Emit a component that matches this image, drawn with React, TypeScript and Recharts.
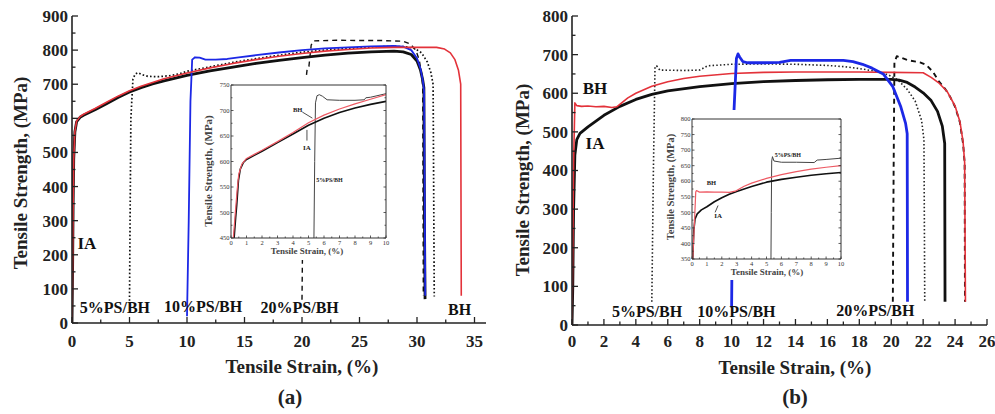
import React from 'react';
import { LineChart, Line, XAxis, YAxis, ReferenceDot, ReferenceLine } from 'recharts';

type Pair = [number, number];
type Pt = { s: number; v: number };
const toPts = (arr: Pair[]): Pt[] => arr.map(([s, v]) => ({ s, v }));

// ---------- Panel (a) main ----------
const aIA: Pair[] = [[0,0],[0.05,150],[0.1,350],[0.15,480],[0.25,560],[0.4,590],[0.7,603],[1,609],[2,625],[3,643],[4,661],[5,677],[6,690],[7,701],[8,710],[10,726],[12,739],[14,750],[16,761],[18,770],[20,778],[22,785],[24,791],[26,795],[28,797],[28.8,795],[29.5,787],[30,768],[30.3,742],[30.5,712],[30.6,690],[30.65,300],[30.7,70]];
const aBH: Pair[] = [[0,0],[0.04,120],[0.09,320],[0.15,480],[0.25,562],[0.4,592],[0.7,605],[1,612],[2,629],[3,647],[4,665],[5,681],[6,694],[7,705],[8,716],[10,733],[12,748],[14,761],[16,772],[18,782],[20,790],[22,797],[24,802],[26,806],[28,808],[31.7,808],[32.4,803],[32.9,792],[33.3,772],[33.6,742],[33.8,700],[33.85,80]];
const a10: Pair[] = [[10,20],[10.15,300],[10.3,650],[10.45,772],[10.7,779],[11.1,778],[11.6,772],[12.5,772],[13.5,774],[14.5,779],[16,785],[18,793],[20,800],[22,805],[24,808],[26,811],[28,812],[28.8,810],[29.5,800],[30,776],[30.3,746],[30.5,712],[30.62,680],[30.68,300],[30.72,80]];
const a5: Pair[] = [[5,65],[5.05,300],[5.12,600],[5.3,715],[5.5,730],[5.75,734],[6.1,728],[6.6,723],[7.5,722],[8.5,725],[9.3,730],[10,738],[12,751],[14,764],[16,775],[18,785],[20,794],[22,800],[24,805],[26,809],[28,811],[29,810],[29.8,805],[30.4,792],[30.9,765],[31.2,735],[31.4,700],[31.45,400],[31.5,78]];
const a20: Pair[] = [[20,68],[20.1,400],[20.3,700],[20.45,745],[20.6,752],[20.8,815],[21,827],[23,829],[25,828],[27,828],[28.8,826],[29.4,818],[29.9,800],[30.2,770],[30.4,730],[30.5,690],[30.55,80]];

// ---------- Panel (b) main ----------
const bIA: Pair[] = [[0,0],[0.05,100],[0.1,300],[0.18,440],[0.3,480],[0.5,496],[1,513],[2,543],[3,566],[4,584],[5,597],[6,606],[8,617],[10,625],[12,630],[14,633],[16,635],[18,636],[20,636],[20.5,634],[21,628],[21.5,616],[22,601],[22.5,581],[22.9,553],[23.2,515],[23.35,470],[23.37,60]];
const bBH: Pair[] = [[0,0],[0.05,200],[0.1,420],[0.18,575],[0.3,568],[0.6,566],[1,567],[1.5,565],[2,566],[2.5,563],[2.8,565],[3.5,588],[4,600],[5,618],[6,630],[7,638],[8,644],[10,651],[12,654],[14,655],[16,655],[18,655],[20,654],[22,653],[22.5,641],[23,626],[23.5,605],[24,567],[24.3,527],[24.5,475],[24.6,420],[24.65,60]];
const b10: Pair[] = [[10,45],[10.05,300],[10.15,555],[10.3,690],[10.4,702],[10.5,694],[10.7,682],[11,679],[12,679],[13,680],[13.7,685],[15,685],[17,685],[17.6,682],[18.2,675],[18.8,665],[19.5,650],[20.1,617],[20.6,565],[20.9,522],[21,495],[21.02,60]];
const b5: Pair[] = [[5,60],[5.1,400],[5.2,668],[5.3,671],[5.5,660],[7,659],[8,660],[8.5,671],[10,675],[12,676],[14,675],[16,672],[17,669],[18,664],[19,657],[19.8,648],[20.4,635],[21,610],[21.5,580],[21.9,530],[22.05,480],[22.1,60]];
const b20: Pair[] = [[20.1,60],[20.15,400],[20.2,680],[20.35,696],[21,686],[21.8,680],[22.2,673],[22.6,656],[23,630],[23.4,610],[23.7,590],[24,565],[24.3,525],[24.5,470],[24.6,420],[24.62,60]];

// ---------- Insets ----------
const iaIA: Pair[] = [[0.2,450],[0.3,490],[0.37,515],[0.48,563],[0.6,585],[0.8,598],[1,604],[1.5,612],[2,620],[3,637],[4,654],[5,671],[6,685],[7,696],[8,705],[9,712],[10,718]];
const iaBH: Pair[] = [[0.15,450],[0.28,500],[0.4,545],[0.5,575],[0.7,595],[1,606],[1.5,614],[2,622],[3,639],[4,657],[5,676],[6,691],[7,703],[8,713],[9,722],[10,731]];
const ia5: Pair[] = [[5.35,450],[5.4,600],[5.45,715],[5.55,729],[5.7,731],[5.9,728],[6.2,721],[7,720],[8,720],[8.6,721],[8.7,725],[9,726],[10,733]];
const ibIA: Pair[] = [[0.05,350],[0.12,440],[0.2,478],[0.35,495],[0.63,508],[1,518],[1.5,534],[2,547],[2.5,558],[3,567],[4,583],[5,597],[6,606],[7,613],[8,619],[9,624],[10,628]];
const ibBH: Pair[] = [[0.05,350],[0.15,450],[0.25,565],[0.3,570],[0.5,565],[1,566],[1.5,565],[2,565],[2.5,564],[2.9,568],[3.5,584],[4,594],[5,609],[6,621],[7,631],[8,639],[9,645],[10,650]];
const ib5: Pair[] = [[5.3,350],[5.32,500],[5.35,665],[5.4,679],[5.5,665],[6,661],[7,661],[8.2,660],[8.4,668],[9,670],[10,674]];

// ---------- Ticks ----------
const aXTicks = [0,2.5,5,7.5,10,12.5,15,17.5,20,22.5,25,27.5,30,32.5,35];
const aXMajor = [0,5,10,15,20,25,30,35];
const aYTicks = [0,50,100,150,200,250,300,350,400,450,500,550,600,650,700,750,800,850,900];
const aYMajor = [0,100,200,300,400,500,600,700,800,900];
const bXTicks = [0,1,2,3,4,5,6,7,8,9,10,11,12,13,14,15,16,17,18,19,20,21,22,23,24,25,26];
const bXMajor = [0,2,4,6,8,10,12,14,16,18,20,22,24,26];
const bYTicks = [0,50,100,150,200,250,300,350,400,450,500,550,600,650,700,750,800];
const bYMajor = [0,100,200,300,400,500,600,700,800];
const iXTicks = [0,0.5,1,1.5,2,2.5,3,3.5,4,4.5,5,5.5,6,6.5,7,7.5,8,8.5,9,9.5,10];
const iXMajor = [0,1,2,3,4,5,6,7,8,9,10];
const iaYTicks = [450,475,500,525,550,575,600,625,650,675,700,725,750];
const iaYMajor = [450,500,550,600,650,700,750];
const ibYTicks = [350,375,400,425,450,475,500,525,550,575,600,625,650,675,700,725,750,775,800];
const ibYMajor = [350,400,450,500,550,600,650,700,750,800];

const FONT = '"Liberation Serif", "DejaVu Serif", serif';
const RED = '#e3323a';
const BLUE = '#1c28e6';
const BLK = '#111';

type TickOpt = {
  orient: 'bottom' | 'left' | 'top' | 'right';
  majors: number[];
  majLen: number;
  minLen: number;
  fs: number;
  off: number;
  color: string;
  show: boolean;
  weight: number | string;
  sw: number;
};
const isIn = (arr: number[], v: number) => arr.some((a) => Math.abs(a - v) < 1e-6);
const makeTick = (o: TickOpt) => (props: any) => {
  const { x, y, payload } = props;
  const val = payload.value;
  const maj = isIn(o.majors, val);
  const len = maj ? o.majLen : o.minLen;
  let x2 = x;
  let y2 = y;
  if (o.orient === 'bottom') y2 = y - len;
  else if (o.orient === 'top') y2 = y + len;
  else if (o.orient === 'left') x2 = x + len;
  else x2 = x - len;
  let label: any = null;
  if (o.show && maj) {
    if (o.orient === 'bottom') {
      label = (
        <text x={x} y={y + o.off} dy="0.35em" textAnchor="middle" fontSize={o.fs} fontWeight={o.weight} fontFamily={FONT} fill={o.color}>
          {val}
        </text>
      );
    } else {
      label = (
        <text x={x - o.off} y={y} dy="0.35em" textAnchor="end" fontSize={o.fs} fontWeight={o.weight} fontFamily={FONT} fill={o.color}>
          {val}
        </text>
      );
    }
  }
  return (
    <g>
      <line x1={x} y1={y} x2={x2} y2={y2} stroke={o.color} strokeWidth={o.sw} />
      {label}
    </g>
  );
};

const annShape = (text: string, fs: number, anchor: string = 'middle', weight: number | string = 'bold', color = '#111') => (p: any) => (
  <text x={p.cx} y={p.cy} dy="0.35em" textAnchor={anchor} fontSize={fs} fontWeight={weight} fontFamily={FONT} fill={color}>
    {text}
  </text>
);

const line = (data: Pair[], stroke: string, width: number, dash?: string) => (
  <Line
    data={toPts(data)}
    dataKey="v"
    type="linear"
    stroke={stroke}
    strokeWidth={width}
    strokeDasharray={dash}
    dot={false}
    activeDot={false}
    isAnimationActive={false}
    strokeLinejoin="round"
  />
);

function PanelA() {
  return (
    <LineChart width={495} height={414} margin={{ top: 16, right: 9, bottom: 90, left: 71 }}>
      <XAxis dataKey="s" type="number" domain={[0, 36]} allowDataOverflow ticks={aXTicks} height={1} tickSize={0} tickMargin={0} tickLine={false}
        axisLine={{ stroke: '#222', strokeWidth: 1.6 }} interval={0}
        tick={makeTick({ orient: 'bottom', majors: aXMajor, majLen: 6, minLen: 3.5, fs: 17, off: 18, color: '#222', show: true, weight: 'bold', sw: 1.3 })} />
      <YAxis type="number" domain={[0, 900]} allowDataOverflow ticks={aYTicks} width={1} tickSize={0} tickMargin={0} tickLine={false}
        axisLine={{ stroke: '#222', strokeWidth: 1.6 }} interval={0}
        tick={makeTick({ orient: 'left', majors: aYMajor, majLen: 6, minLen: 3.5, fs: 17, off: 4, color: '#222', show: true, weight: 'bold', sw: 1.3 })} />
      {line(a20, BLK, 1.4, '5 4')}
      {line(a5, BLK, 1.7, '1.6 2.2')}
      {line(aIA, BLK, 2.8)}
      {line(a10, BLUE, 1.8)}
      {line(aBH, RED, 1.6)}
      <ReferenceDot x={1.3} y={235} r={0} ifOverflow="visible" shape={annShape('IA', 17)} />
      <ReferenceDot x={3.73} y={47} r={0} ifOverflow="visible" shape={annShape('5%PS/BH', 16)} />
      <ReferenceDot x={11.4} y={50} r={0} ifOverflow="visible" shape={annShape('10%PS/BH', 16)} />
      <ReferenceDot x={19.8} y={47} r={0} ifOverflow="visible" shape={annShape('20%PS/BH', 16)} />
      <ReferenceDot x={33.7} y={41} r={0} ifOverflow="visible" shape={annShape('BH', 16)} />
    </LineChart>
  );
}

function PanelB() {
  return (
    <LineChart width={500} height={414} margin={{ top: 16, right: 8, bottom: 88, left: 76 }}>
      <XAxis dataKey="s" type="number" domain={[0, 26]} allowDataOverflow ticks={bXTicks} height={1} tickSize={0} tickMargin={0} tickLine={false}
        axisLine={{ stroke: '#222', strokeWidth: 1.6 }} interval={0}
        tick={makeTick({ orient: 'bottom', majors: bXMajor, majLen: 6, minLen: 3.5, fs: 17, off: 16, color: '#222', show: true, weight: 'bold', sw: 1.3 })} />
      <YAxis type="number" domain={[0, 800]} allowDataOverflow ticks={bYTicks} width={1} tickSize={0} tickMargin={0} tickLine={false}
        axisLine={{ stroke: '#222', strokeWidth: 1.6 }} interval={0}
        tick={makeTick({ orient: 'left', majors: bYMajor, majLen: 6, minLen: 3.5, fs: 17, off: 4, color: '#222', show: true, weight: 'bold', sw: 1.3 })} />
      {line(b5, '#222', 1.6, '1.5 2.2')}
      {line(b20, BLK, 1.9, '5 4')}
      {line(bIA, BLK, 2.8)}
      {line(bBH, RED, 1.6)}
      {line(b10, BLUE, 2.8)}
      <ReferenceDot x={1.44} y={614} r={0} ifOverflow="visible" shape={annShape('BH', 17)} />
      <ReferenceDot x={1.44} y={471} r={0} ifOverflow="visible" shape={annShape('IA', 17)} />
      <ReferenceDot x={4.7} y={34} r={0} ifOverflow="visible" shape={annShape('5%PS/BH', 16)} />
      <ReferenceDot x={10.3} y={34} r={0} ifOverflow="visible" shape={annShape('10%PS/BH', 16)} />
      <ReferenceDot x={19.0} y={39} r={0} ifOverflow="visible" shape={annShape('20%PS/BH', 16)} />
    </LineChart>
  );
}

const insetTick = (orient: 'bottom' | 'left' | 'top' | 'right', majors: number[], show: boolean, off: number) =>
  makeTick({ orient, majors, majLen: 2.5, minLen: 1.5, fs: 6.5, off, color: '#333', show, weight: 'normal', sw: 0.8 });

function InsetA() {
  return (
    <LineChart width={195} height={182} margin={{ top: 6, right: 8, bottom: 21, left: 30 }}>
      <XAxis dataKey="s" type="number" domain={[0, 10]} allowDataOverflow ticks={iXTicks} height={1} tickSize={0} tickMargin={0} tickLine={false} interval={0}
        axisLine={{ stroke: '#333', strokeWidth: 1 }} tick={insetTick('bottom', iXMajor, true, 5)} />
      <XAxis xAxisId="t" orientation="top" type="number" domain={[0, 10]} allowDataOverflow ticks={iXTicks} height={1} tickSize={0} tickMargin={0} tickLine={false} interval={0}
        axisLine={{ stroke: '#333', strokeWidth: 1 }} tick={insetTick('top', iXMajor, false, 0)} />
      <YAxis type="number" domain={[450, 750]} allowDataOverflow ticks={iaYTicks} width={1} tickSize={0} tickMargin={0} tickLine={false} interval={0}
        axisLine={{ stroke: '#333', strokeWidth: 1 }} tick={insetTick('left', iaYMajor, true, 1.5)} />
      <YAxis yAxisId="r" orientation="right" type="number" domain={[450, 750]} allowDataOverflow ticks={iaYTicks} width={1} tickSize={0} tickMargin={0} tickLine={false} interval={0}
        axisLine={{ stroke: '#333', strokeWidth: 1 }} tick={insetTick('right', iaYMajor, false, 0)} />
      {line(ia5, '#444', 1)}
      {line(iaIA, BLK, 1.6)}
      {line(iaBH, '#ee5a64', 1.2)}
      <ReferenceLine segment={[{ x: 4.6, y: 697 }, { x: 5.25, y: 685 }]} stroke="#222" strokeWidth={0.8} ifOverflow="visible" />
      <ReferenceLine segment={[{ x: 4.9, y: 641 }, { x: 4.9, y: 662 }]} stroke="#222" strokeWidth={0.8} ifOverflow="visible" />
      <ReferenceDot x={4.3} y={701} r={0} ifOverflow="visible" shape={annShape('BH', 6.5, 'middle', 'bold', '#222')} />
      <ReferenceDot x={4.9} y={628} r={0} ifOverflow="visible" shape={annShape('IA', 7, 'middle', 'bold', '#222')} />
      <ReferenceDot x={5.5} y={563} r={0} ifOverflow="visible" shape={annShape('5%PS/BH', 6, 'start', 'bold', '#222')} />
    </LineChart>
  );
}

function InsetB() {
  return (
    <LineChart width={183} height={170} margin={{ top: 8, right: 5, bottom: 20, left: 27 }}>
      <XAxis dataKey="s" type="number" domain={[0, 10]} allowDataOverflow ticks={iXTicks} height={1} tickSize={0} tickMargin={0} tickLine={false} interval={0}
        axisLine={{ stroke: '#333', strokeWidth: 1 }} tick={insetTick('bottom', iXMajor, true, 5)} />
      <XAxis xAxisId="t" orientation="top" type="number" domain={[0, 10]} allowDataOverflow ticks={iXTicks} height={1} tickSize={0} tickMargin={0} tickLine={false} interval={0}
        axisLine={{ stroke: '#333', strokeWidth: 1 }} tick={insetTick('top', iXMajor, false, 0)} />
      <YAxis type="number" domain={[350, 800]} allowDataOverflow ticks={ibYTicks} width={1} tickSize={0} tickMargin={0} tickLine={false} interval={0}
        axisLine={{ stroke: '#333', strokeWidth: 1 }} tick={insetTick('left', ibYMajor, true, 1.5)} />
      <YAxis yAxisId="r" orientation="right" type="number" domain={[350, 800]} allowDataOverflow ticks={ibYTicks} width={1} tickSize={0} tickMargin={0} tickLine={false} interval={0}
        axisLine={{ stroke: '#333', strokeWidth: 1 }} tick={insetTick('right', ibYMajor, false, 0)} />
      {line(ib5, '#444', 1)}
      {line(ibIA, BLK, 1.6)}
      {line(ibBH, '#ee5a64', 1.2)}
      <ReferenceLine segment={[{ x: 1.55, y: 500 }, { x: 1.75, y: 522 }]} stroke="#222" strokeWidth={0.8} ifOverflow="visible" />
      <ReferenceDot x={1.3} y={594} r={0} ifOverflow="visible" shape={annShape('BH', 6.5, 'middle', 'bold', '#222')} />
      <ReferenceDot x={1.75} y={489} r={0} ifOverflow="visible" shape={annShape('IA', 7, 'middle', 'bold', '#222')} />
      <ReferenceDot x={5.55} y={685} r={0} ifOverflow="visible" shape={annShape('5%PS/BH', 6, 'start', 'bold', '#222')} />
    </LineChart>
  );
}

const titleStyle = { fontFamily: FONT, fontWeight: 'bold' as const, fill: '#222' };

export default function App() {
  return (
    <div style={{ position: 'absolute', left: 0, top: 0, width: 995, height: 414, background: '#fff', overflow: 'hidden' }}>
      <div style={{ position: 'absolute', left: 0, top: 0 }}>
        <PanelA />
      </div>
      <div style={{ position: 'absolute', left: 495, top: 0 }}>
        <PanelB />
      </div>
      <div style={{ position: 'absolute', left: 200, top: 78, background: '#fff' }}>
        <InsetA />
      </div>
      <div style={{ position: 'absolute', left: 664, top: 110, background: '#fff' }}>
        <InsetB />
      </div>
      <svg width={995} height={414} style={{ position: 'absolute', left: 0, top: 0, pointerEvents: 'none' }}>
        <text x={20} y={173} dy="0.35em" textAnchor="middle" fontSize={19} transform="rotate(-90 20 173)" {...titleStyle}>Tensile Strength, (MPa)</text>
        <text x={302} y={366} dy="0.35em" textAnchor="middle" fontSize={19} {...titleStyle}>Tensile Strain, (%)</text>
        <text x={290} y={397} dy="0.35em" textAnchor="middle" fontSize={21} {...titleStyle}>(a)</text>
        <text x={522} y={180} dy="0.35em" textAnchor="middle" fontSize={19} transform="rotate(-90 522 180)" {...titleStyle}>Tensile Strength, (MPa)</text>
        <text x={795} y={367} dy="0.35em" textAnchor="middle" fontSize={19} {...titleStyle}>Tensile Strain, (%)</text>
        <text x={795} y={397} dy="0.35em" textAnchor="middle" fontSize={21} {...titleStyle}>(b)</text>
        <text x={208} y={171} dy="0.35em" textAnchor="middle" fontSize={11} transform="rotate(-90 208 171)" fontFamily={FONT} fontWeight="bold" fill="#444">Tensile Strength, (MPa)</text>
        <text x={307} y={251} dy="0.35em" textAnchor="middle" fontSize={9} fontFamily={FONT} fontWeight="bold" fill="#444">Tensile Strain, (%)</text>
        <text x={670} y={187} dy="0.35em" textAnchor="middle" fontSize={10.5} transform="rotate(-90 670 187)" fontFamily={FONT} fontWeight="bold" fill="#444">Tensile Strength, (MPa)</text>
        <text x={767} y={272} dy="0.35em" textAnchor="middle" fontSize={9} fontFamily={FONT} fontWeight="bold" fill="#444">Tensile Strain, (%)</text>
      </svg>
    </div>
  );
}
